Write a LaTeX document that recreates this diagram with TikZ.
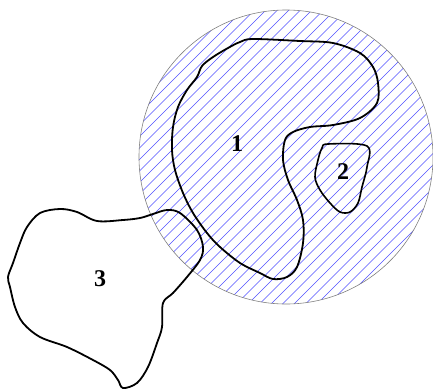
\documentclass[tikz,border=0pt]{standalone}
\usepackage{fontspec}
\setmainfont{Liberation Serif}
\begin{document}
\begin{tikzpicture}[x=1pt,y=-1pt,
  region/.style={line width=1.8pt, black, smooth cycle, tension=0.55},
  hatchline/.style={line width=0.6pt, color={rgb,255:red,80;green,80;blue,255}},
  lbl/.style={font=\fontsize{24}{24}\selectfont\bfseries, inner sep=0pt}]
\useasboundingbox (0,0) rectangle (433,389);
\begin{scope}
  \clip (286,157) circle[radius=147];
  \foreach \c in {0,11.5,...,880} {
    \draw[hatchline] (\c,0) -- (\c-400,400);
  }
\end{scope}
\draw[gray, line width=0.6pt] (286,157) circle[radius=147];
% region 1
\draw[region] plot coordinates {
 (240,42) (253,39) (300,41) (333,43) (360,53) (373,67) (378,83) (377,103)
 (360,118) (333,125) (310,127) (293,132) (285,140) (283,160) (288,180)
 (297,200) (303,220) (303,243) (297,267) (287,277) (273,279) (260,273)
 (240,263) (220,247) (207,233) (193,213) (183,193) (175,170) (172,150)
 (173,127) (178,107) (187,90) (197,77) (202,66) (213,57) (228,48)};
% region 2
\draw[region, line width=1.6pt] plot coordinates {
 (328,144) (367,146) (367,167) (362,187) (358,203) (350,212) (340,212)
 (330,203) (320,190) (315,177) (318,160) (322,148)};
% region 3
\draw[region] plot coordinates {
 (167,210) (180,213) (197,230) (203,247) (200,260) (187,277) (173,293)
 (163,303) (162,327) (157,343) (148,367) (137,383) (123,388) (118,380)
 (110,370) (93,360) (67,347) (40,337) (23,323) (15,307) (10,287) (8,277)
 (13,263) (20,243) (27,227) (40,213) (60,209) (77,212) (97,221) (123,220)
 (140,218) (153,214)};
\node[lbl] (l1) at (237,144) {1};
\node[lbl] (l2) at (343,172) {2};
\node[lbl] (l3) at (100,279) {3};
\end{tikzpicture}
\end{document}
